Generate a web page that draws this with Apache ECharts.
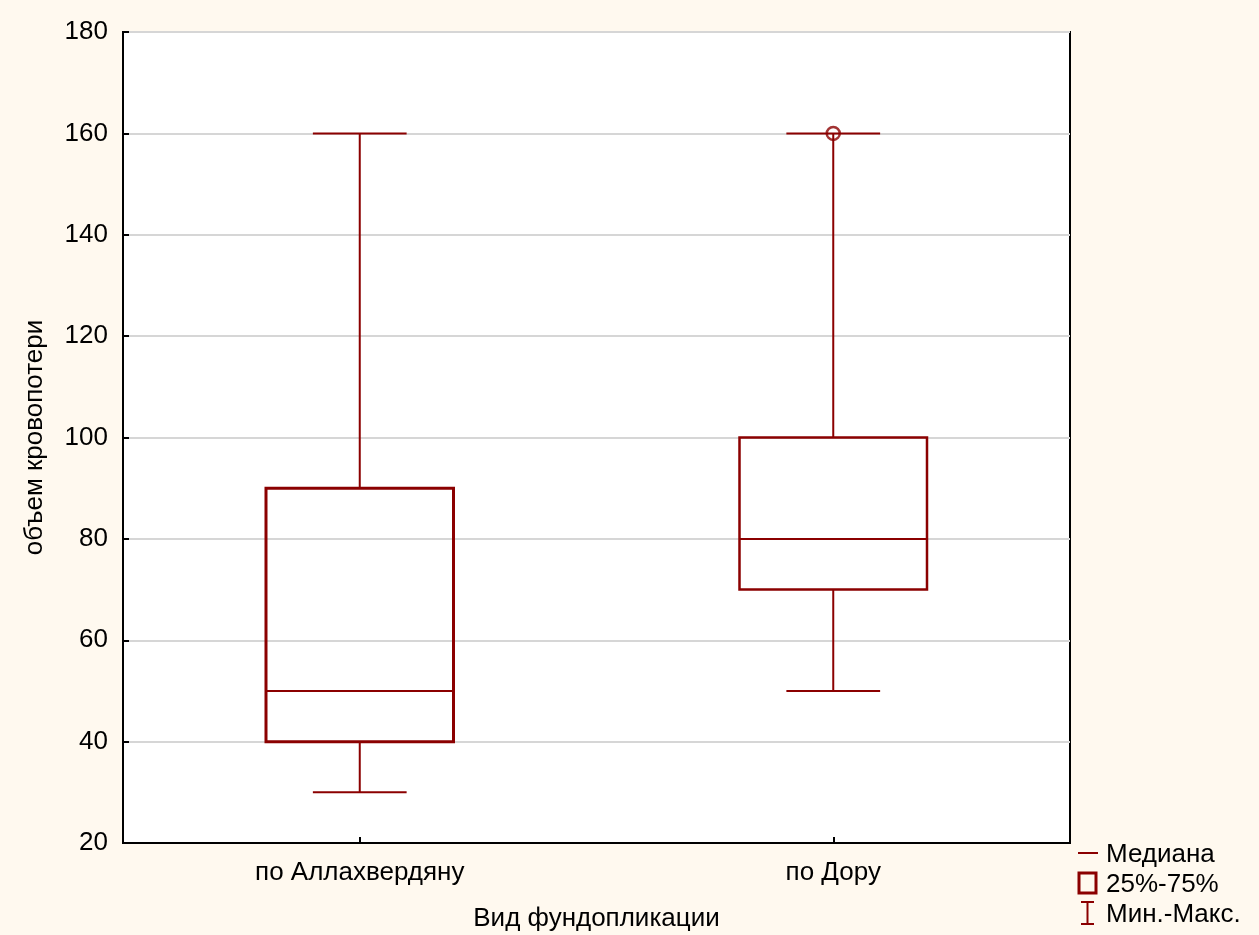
<!DOCTYPE html>
<html>
<head>
<meta charset="utf-8">
<script src="https://cdn.jsdelivr.net/npm/echarts@6/dist/echarts.min.js"></script>
<style>
html,body{margin:0;padding:0;background:#FFF9EF;}
#c{width:1259px;height:935px;}
</style>
</head>
<body>
<div id="c"></div>
<script>
// Data
const categories = ['по Аллахвердяну', 'по Дору'];
const mins    = [30, 50];
const q1s     = [40, 70];
const medians = [50, 80];
const q3s     = [90, 100];
const maxs    = [160, 160];
const outliers = [[1, 160]];
const yTicks = { min: 20, max: 180, interval: 20 };
const boxLineWidths = [3, 2.5];

const RED = '#8B0000';
const FONT = '"Liberation Sans", Arial, sans-serif';
const FS = 26;

const boxData = categories.map((c, i) => [i, mins[i], q1s[i], medians[i], q3s[i], maxs[i]]);

function renderBox(params, api) {
  const idx = api.value(0);
  const band = api.size([1, 0])[0];
  const bw = band * 0.396;
  const cw = band * 0.198;
  const pMin = api.coord([idx, api.value(1)]);
  const pQ1 = api.coord([idx, api.value(2)]);
  const pMed = api.coord([idx, api.value(3)]);
  const pQ3 = api.coord([idx, api.value(4)]);
  const pMax = api.coord([idx, api.value(5)]);
  const x = pMed[0];
  const lw = boxLineWidths[params.dataIndex];
  const st = { stroke: RED, lineWidth: 2, fill: null };
  return {
    type: 'group',
    children: [
      { type: 'line', shape: { x1: x, y1: pQ3[1], x2: x, y2: pMax[1] }, style: st },
      { type: 'line', shape: { x1: x, y1: pQ1[1], x2: x, y2: pMin[1] }, style: st },
      { type: 'line', shape: { x1: x - cw / 2, y1: pMax[1], x2: x + cw / 2, y2: pMax[1] }, style: st },
      { type: 'line', shape: { x1: x - cw / 2, y1: pMin[1], x2: x + cw / 2, y2: pMin[1] }, style: st },
      { type: 'rect', shape: { x: x - bw / 2, y: pQ3[1], width: bw, height: pQ1[1] - pQ3[1] },
        style: { stroke: RED, lineWidth: lw, fill: 'rgba(255,255,255,0)' } },
      { type: 'line', shape: { x1: x - bw / 2, y1: pMed[1], x2: x + bw / 2, y2: pMed[1] }, style: st }
    ]
  };
}

const chart = echarts.init(document.getElementById('c'), null, { renderer: 'canvas' });
chart.setOption({
  backgroundColor: '#FFF9EF',
  animation: false,
  textStyle: { fontFamily: FONT },
  grid: { left: 123, top: 32, right: 189, bottom: 92, containLabel: false, outerBoundsMode: 'none',
          show: true, backgroundColor: '#ffffff', borderColor: '#000', borderWidth: 2 },
  xAxis: {
    type: 'category',
    data: categories,
    boundaryGap: true,
    name: 'Вид фундопликации',
    nameLocation: 'middle',
    nameGap: 63,
    nameTextStyle: { fontSize: FS, color: '#000', fontFamily: FONT },
    axisLine: { show: true, lineStyle: { color: '#000', width: 2 } },
    axisTick: { show: true, interval: 0, inside: true, alignWithLabel: true, length: 6, lineStyle: { color: '#000', width: 2 } },
    axisLabel: { fontSize: FS, color: '#000', margin: 17, fontFamily: FONT },
    splitLine: { show: false }
  },
  yAxis: {
    type: 'value',
    min: yTicks.min, max: yTicks.max, interval: yTicks.interval,
    name: 'объем кровопотери',
    nameLocation: 'middle',
    nameGap: 75,
    nameRotate: 90,
    nameTextStyle: { fontSize: FS, color: '#000', fontFamily: FONT },
    axisLine: { show: true, lineStyle: { color: '#000', width: 2 } },
    axisTick: { show: true, inside: true, length: 6, lineStyle: { color: '#000', width: 2 } },
    axisLabel: { fontSize: FS, color: '#000', margin: 15, fontFamily: FONT },
    splitLine: { show: true, lineStyle: { color: '#d6d6d6', width: 2 } }
  },
  series: [
    { type: 'custom', renderItem: renderBox, data: boxData, encode: { x: 0, y: [1, 2, 3, 4, 5] }, z: 5 },
    { type: 'scatter', data: outliers, symbol: 'circle', symbolSize: 13,
      itemStyle: { color: 'rgba(255,255,255,0)', borderColor: RED, borderWidth: 2.5 }, z: 6 }
  ],
  graphic: [
    { type: 'line', shape: { x1: 1078, y1: 853, x2: 1098, y2: 853 }, style: { stroke: RED, lineWidth: 2 } },
    { type: 'text', left: 1106, top: 842, style: { text: 'Медиана', fontSize: FS, fill: '#000', fontFamily: FONT } },
    { type: 'rect', shape: { x: 1079, y: 873, width: 17, height: 20 }, style: { stroke: RED, lineWidth: 3, fill: null } },
    { type: 'text', left: 1106, top: 872, style: { text: '25%-75%', fontSize: FS, fill: '#000', fontFamily: FONT } },
    { type: 'line', shape: { x1: 1081, y1: 902, x2: 1094, y2: 902 }, style: { stroke: RED, lineWidth: 2 } },
    { type: 'line', shape: { x1: 1081, y1: 924, x2: 1094, y2: 924 }, style: { stroke: RED, lineWidth: 2 } },
    { type: 'line', shape: { x1: 1087.5, y1: 902, x2: 1087.5, y2: 924 }, style: { stroke: RED, lineWidth: 2 } },
    { type: 'text', left: 1106, top: 902, style: { text: 'Мин.-Макс.', fontSize: FS, fill: '#000', fontFamily: FONT } }
  ]
});
</script>
</body>
</html>
